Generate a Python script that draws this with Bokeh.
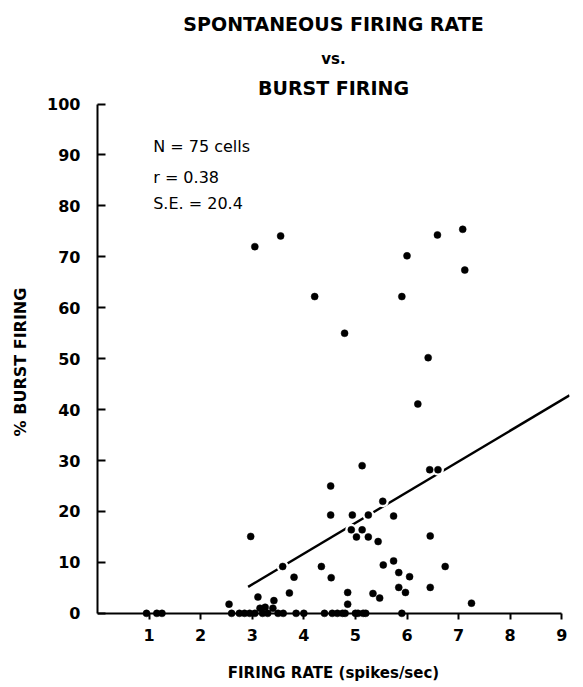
from bokeh.plotting import figure
from bokeh.models import Range1d, FixedTicker, Title, Label, ColumnDataSource, LinearAxis
from bokeh.embed import file_html
from bokeh.resources import INLINE

# ---- data ----
firing_rate = [3.05, 3.55, 4.21, 6.59, 7.08, 6.00, 7.12, 5.90, 4.79, 6.41,
               6.21, 5.13, 6.44, 6.60, 4.52, 5.53, 4.52, 4.94, 5.25, 5.74,
               4.92, 5.13, 5.02, 5.25, 5.44, 6.45, 2.97, 4.34, 4.53, 5.54,
               5.74, 5.84, 6.05, 6.74, 5.84, 5.97, 6.45, 4.85, 5.34, 5.47,
               3.59, 3.81, 3.11, 3.42, 3.72,
               0.95, 1.15, 1.25, 2.60, 2.75, 2.85, 2.95, 3.05, 3.20, 3.30,
               3.50, 3.60, 3.85, 4.00, 4.40, 4.55, 4.65, 4.75, 4.80, 5.00,
               5.05, 5.15, 5.20, 5.90,
               2.55, 3.15, 3.25, 4.85, 7.25, 3.40]
burst_pct = [72.0, 74.1, 62.2, 74.3, 75.4, 70.2, 67.4, 62.2, 55.0, 50.2,
             41.1, 29.0, 28.2, 28.2, 25.0, 22.0, 19.3, 19.3, 19.3, 19.1,
             16.4, 16.4, 15.0, 15.0, 14.1, 15.2, 15.1, 9.2, 7.0, 9.5,
             10.3, 8.0, 7.2, 9.2, 5.1, 4.1, 5.1, 4.1, 3.9, 3.0,
             9.2, 7.1, 3.2, 2.5, 4.0,
             0, 0, 0, 0, 0, 0, 0, 0, 0, 0,
             0, 0, 0, 0, 0, 0, 0, 0, 0, 0,
             0, 0, 0, 0,
             1.8, 1.0, 1.2, 1.8, 2.0, 1.0]

fit_x = [2.92, 9.15]
fit_y = [5.2, 42.8]

x_ticks = [1, 2, 3, 4, 5, 6, 7, 8, 9]
y_ticks = [0, 10, 20, 30, 40, 50, 60, 70, 80, 90, 100]

title_lines = ["SPONTANEOUS FIRING RATE", "vs.", "BURST FIRING"]
stats_lines = ["N = 75 cells", "r = 0.38", "S.E. = 20.4"]
stats_x = 1.08
stats_y = [91.6, 85.5, 80.4]

x_label = "FIRING RATE (spikes/sec)"
y_label = "% BURST FIRING"

FONT = "DejaVu Sans"

p = figure(width=583, height=687, output_backend="svg", toolbar_location=None,
           x_range=Range1d(0, 9.15), y_range=Range1d(-1.6, 100.3),
           min_border_left=97, min_border_right=14,
           min_border_top=101, min_border_bottom=66)
p.outline_line_color = None
p.xgrid.grid_line_color = None
p.ygrid.grid_line_color = None
p.background_fill_color = "white"
p.border_fill_color = "white"

# titles (last added is outermost)
p.add_layout(Title(text=title_lines[2], align="center", text_font=FONT,
                   text_font_size="19px", text_font_style="bold",
                   text_color="black", standoff=8), "above")
p.add_layout(Title(text=title_lines[1], align="center", text_font=FONT,
                   text_font_size="15px", text_font_style="bold",
                   text_color="black", standoff=6), "above")
p.add_layout(Title(text=title_lines[0], align="center", text_font=FONT,
                   text_font_size="19px", text_font_style="bold",
                   text_color="black", standoff=20), "above")

src = ColumnDataSource(dict(x=firing_rate, y=burst_pct))
p.line(fit_x, fit_y, line_color="black", line_width=2.4)
p.scatter("x", "y", source=src, size=12, fill_color="white", line_color=None)
p.scatter("x", "y", source=src, size=7, fill_color="black", line_color="black",
          line_width=0.5)

for t, yy in zip(stats_lines, stats_y):
    p.add_layout(Label(x=stats_x, y=yy, text=t, text_font=FONT,
                       text_font_size="16px", text_baseline="middle",
                       text_align="left", text_color="black"))

# x axis line and ticks, fixed at y = 0
xa = p.xaxis[0]
xa.fixed_location = 0
xa.ticker = FixedTicker(ticks=x_ticks)
xa.bounds = (0, 9)
xa.axis_line_width = 2
xa.axis_line_color = "black"
xa.major_tick_line_width = 2
xa.major_tick_line_color = "black"
xa.major_tick_in = 0
xa.major_tick_out = 6
xa.minor_tick_line_color = None
xa.major_label_text_color = None

# x tick labels and axis title, in the bottom panel
xlab = LinearAxis(ticker=FixedTicker(ticks=x_ticks))
xlab.axis_line_color = None
xlab.major_tick_line_color = None
xlab.minor_tick_line_color = None
xlab.major_label_text_font = FONT
xlab.major_label_text_font_size = "16px"
xlab.major_label_text_font_style = "bold"
xlab.major_label_text_color = "black"
xlab.major_label_standoff = 1
xlab.axis_label = x_label
xlab.axis_label_text_font = FONT
xlab.axis_label_text_font_size = "15px"
xlab.axis_label_text_font_style = "bold"
xlab.axis_label_text_color = "black"
xlab.axis_label_standoff = 20
p.add_layout(xlab, "below")

ya = p.yaxis[0]
ya.ticker = FixedTicker(ticks=y_ticks)
ya.bounds = (0, 100)
ya.axis_line_width = 2
ya.axis_line_color = "black"
ya.major_tick_line_width = 2
ya.major_tick_line_color = "black"
ya.major_tick_in = 8
ya.major_tick_out = 0
ya.minor_tick_line_color = None
ya.major_label_text_font = FONT
ya.major_label_text_font_size = "16px"
ya.major_label_text_font_style = "bold"
ya.major_label_text_color = "black"
ya.major_label_standoff = 17
ya.axis_label = y_label
ya.axis_label_text_font = FONT
ya.axis_label_text_font_size = "16px"
ya.axis_label_text_font_style = "bold"
ya.axis_label_text_color = "black"
ya.axis_label_standoff = 14

open("out.html", "w").write(file_html(p, INLINE))
